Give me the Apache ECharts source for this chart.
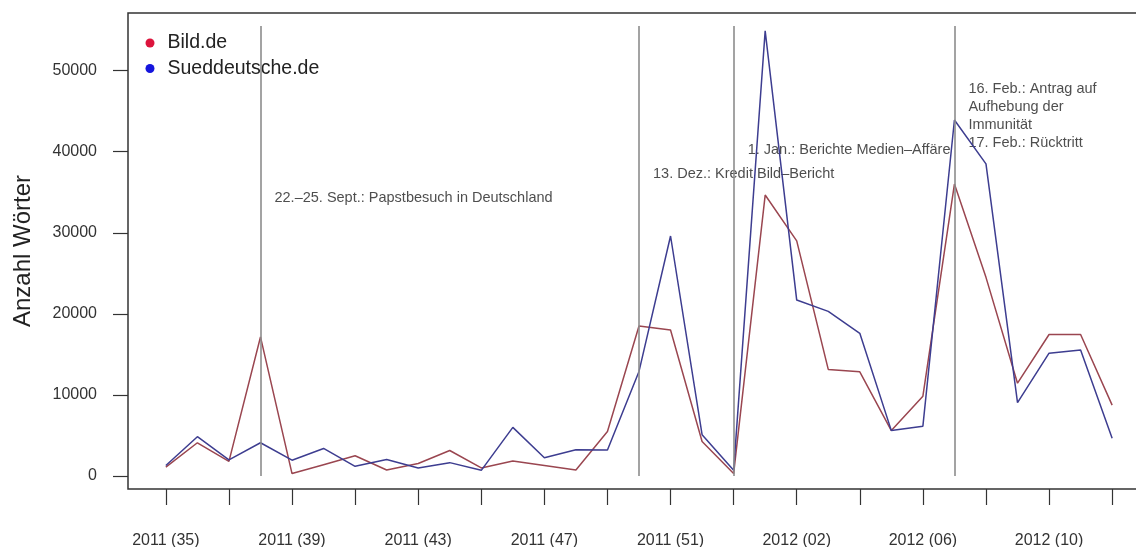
<!DOCTYPE html>
<html>
<head>
<meta charset="utf-8">
<script src="https://cdn.jsdelivr.net/npm/echarts@6/dist/echarts.min.js"></script>
<style>
html,body{margin:0;padding:0;background:#fff;}
#chart{width:1136px;height:547px;}
</style>
</head>
<body>
<div id="chart"></div>
<script>
// ---- data ----
const categories = [
  "2011 (35)","2011 (36)","2011 (37)","2011 (38)","2011 (39)","2011 (40)","2011 (41)","2011 (42)",
  "2011 (43)","2011 (44)","2011 (45)","2011 (46)","2011 (47)","2011 (48)","2011 (49)","2011 (50)",
  "2011 (51)","2011 (52)","2012 (00)","2012 (01)","2012 (02)","2012 (03)","2012 (04)","2012 (05)",
  "2012 (06)","2012 (07)","2012 (08)","2012 (09)","2012 (10)","2012 (11)","2012 (12)"
];
const bild = [1100,4100,1800,17150,300,1400,2500,750,1550,3150,1000,1850,1300,750,5500,18500,
  18000,4250,300,34650,29000,13150,12850,5600,9850,36000,24500,11450,17450,17450,8750];
const sued = [1300,4850,2000,4100,1950,3400,1200,2050,1000,1650,700,6000,2250,3250,3200,12900,
  29600,5100,700,54900,21700,20300,17600,5600,6150,43900,38500,9050,15150,15550,4650];
const yTicks = [0,10000,20000,30000,40000,50000];
const xTickIdx = [0,2,4,6,8,10,12,14,16,18,20,22,24,26,28,30];
const xLabelIdx = [0,4,8,12,16,20,24,28];
const eventIdx = [3,15,18,25];
const eventTop = 55500;
const eventText = [
  "22.–25. Sept.: Papstbesuch in Deutschland",
  "13. Dez.: Kredit Bild–Bericht",
  "1. Jan.: Berichte Medien–Affäre",
  "16. Feb.: Antrag auf\nAufhebung der\nImmunität\n17. Feb.: Rücktritt"
];
const eventTextY = [34300, 37300, 40200, 44400];
const seriesNames = ["Bild.de","Sueddeutsche.de"];

// ---- chart ----
const FONT = "'Liberation Sans', Arial, Helvetica, sans-serif";
const chart = echarts.init(document.getElementById('chart'), null, {renderer:'canvas'});
const pairs = arr => arr.map((v,i)=>[i,v]);

const option = {
  animation:false,
  backgroundColor:'#fff',
  textStyle:{fontFamily:FONT},
  grid:{left:128, right:-14, top:13, bottom:58, show:true, borderColor:'#333', borderWidth:1.5,
    backgroundColor:'transparent', containLabel:false, outerBoundsMode:'none'},
  legend:{
    orient:'vertical', left:140.5, top:28, itemWidth:9, itemHeight:9, itemGap:5.5,
    textStyle:{fontSize:19.5, color:'#222', fontFamily:FONT, padding:[0,0,0,8]},
    data:[
      {name:seriesNames[0], icon:'circle', itemStyle:{color:'#dc143c'}},
      {name:seriesNames[1], icon:'circle', itemStyle:{color:'#1515dd'}}
    ]
  },
  xAxis:{
    type:'value', min:-1.2, max:31.2, position:'bottom',
    axisLine:{show:false, onZero:false},
    splitLine:{show:false},
    axisTick:{show:true, length:16, lineStyle:{color:'#333', width:1.2}, customValues:xTickIdx},
    axisLabel:{show:true, margin:44, fontSize:16, color:'#333', fontFamily:FONT,
      customValues:xLabelIdx, formatter:v=>categories[Math.round(v)]}
  },
  yAxis:{
    type:'value', min:-1600, max:57100, position:'left',
    name:'Anzahl Wörter', nameLocation:'middle', nameGap:93, nameRotate:90,
    nameTextStyle:{fontSize:24, color:'#222', fontFamily:FONT},
    axisLine:{show:false, onZero:false},
    splitLine:{show:false},
    axisTick:{show:true, length:15, lineStyle:{color:'#333', width:1.2}, customValues:yTicks},
    axisLabel:{show:true, margin:31, fontSize:16, color:'#333', fontFamily:FONT, customValues:yTicks,
      formatter:v=>String(v)}
  },
  series:[
    {
      name:'events', type:'scatter', symbolSize:0, silent:true,
      data:eventIdx.map((x,i)=>({value:[x,eventTextY[i]], label:{formatter:eventText[i]}})),
      label:{show:true, position:'right', distance:14, fontSize:14.5, color:'#222', fontFamily:FONT,
        align:'left', verticalAlign:'middle', lineHeight:18},
      markLine:{
        silent:true, symbol:['none','none'], label:{show:false},
        lineStyle:{color:'#8c8c8c', width:1.6, type:'solid'},
        data:eventIdx.map(x=>[{coord:[x,0]},{coord:[x,eventTop]}])
      },
      z:1
    },
    {
      name:seriesNames[0], type:'line', data:pairs(bild), showSymbol:false, symbol:'none',
      lineStyle:{color:'#9a4650', width:1.5}, itemStyle:{color:'#9a4650'}, z:3
    },
    {
      name:seriesNames[1], type:'line', data:pairs(sued), showSymbol:false, symbol:'none',
      lineStyle:{color:'#3d3d90', width:1.5}, itemStyle:{color:'#3d3d90'}, z:3
    }
  ]
};
chart.setOption(option);
</script>
</body>
</html>
